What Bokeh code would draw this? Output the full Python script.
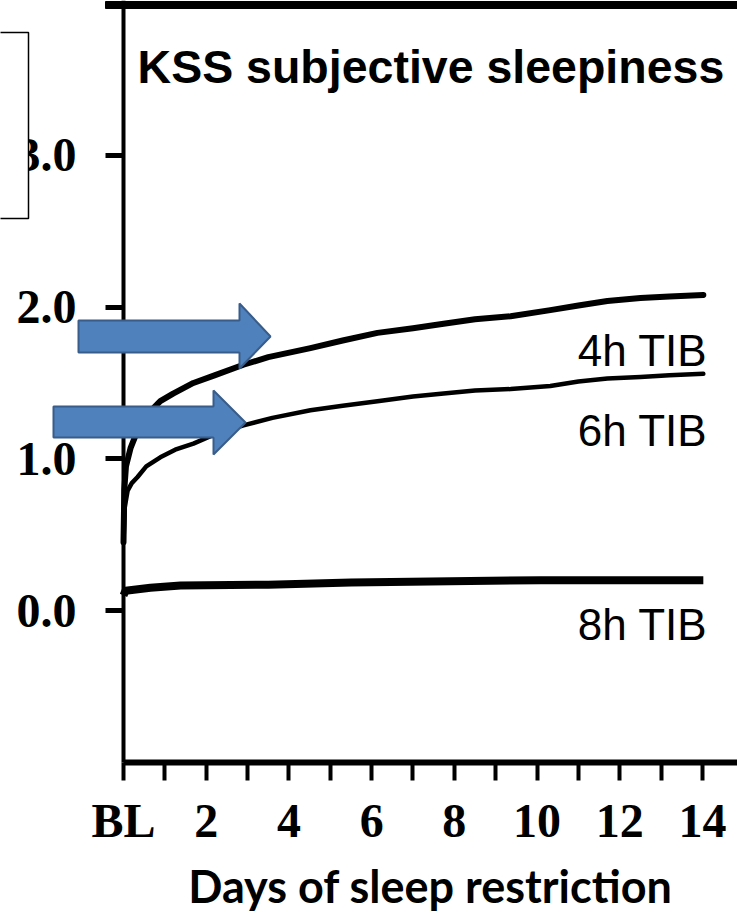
from bokeh.plotting import figure
from bokeh.models import Range1d, FixedTicker, Label, PolyAnnotation
from bokeh.core.properties import value
from bokeh.embed import file_html
from bokeh.resources import INLINE

# ---- data ----
days_4h = [0, 0.02, 0.06, 0.17, 0.3, 0.45, 0.6, 0.89, 1.2, 1.69, 2.2, 2.9, 3.5, 4.52, 5.3,
           6.14, 7.0, 7.74, 8.5, 9.36, 10.32, 11.0, 11.7, 12.5, 13.2, 14.02]
kss_4h = [0.45, 0.80, 0.95, 1.07, 1.16, 1.24, 1.30, 1.38, 1.43, 1.50, 1.55, 1.62, 1.67, 1.73, 1.78,
          1.83, 1.86, 1.89, 1.92, 1.94, 1.98, 2.01, 2.04, 2.06, 2.07, 2.08]

days_6h = [0, 0.03, 0.10, 0.2, 0.34, 0.55, 0.89, 1.25, 1.69, 2.2, 2.9, 3.6, 4.52, 5.3, 6.14,
           7.0, 7.74, 8.5, 9.36, 10.32, 11.0, 11.7, 12.5, 13.2, 14.02]
kss_6h = [0.45, 0.68, 0.79, 0.84, 0.88, 0.95, 1.01, 1.06, 1.10, 1.16, 1.22, 1.27, 1.32, 1.35, 1.38,
          1.41, 1.43, 1.45, 1.46, 1.48, 1.51, 1.53, 1.54, 1.55, 1.56]

days_8h = [0, 0.05, 0.65, 1.38, 3.5, 5.5, 10.08, 14.02]
kss_8h = [0.10, 0.13, 0.15, 0.165, 0.17, 0.185, 0.20, 0.20]

series_names = ["4h TIB", "6h TIB", "8h TIB"]
series_label_y = [1.714, 1.187, -0.092]
series_label_x = 14.12

x_ticks = list(range(15))
x_tick_labels = {0: "BL", 2: "2", 4: "4", 6: "6", 8: "8", 10: "10", 12: "12", 14: "14"}
y_ticks = [0, 1, 2, 3]
y_tick_labels = ["0.0", "1.0", "2.0", "3.0"]

title_text = "KSS subjective sleepiness"
x_title = "Days of sleep restriction"

# call-out arrows (canvas pixels): body-left, body-top, body-bottom, head-base, head-top, head-bottom, tip-x, tip-y
arrows = [
    (78, 320, 352, 239, 303, 368, 270, 336),
    (53, 406, 437, 213, 390, 454, 245, 422),
]

# top rule and left framed box (canvas pixels): left, right, top, bottom
top_rule = (105, 737, 1, 8)
left_box = (-10, 28, 32, 218)

W, H = 737, 921
X0_PX, PX_PER_DAY = 123.0, 41.357
Y0_PX, PX_PER_UNIT = 610.0, 151.7
x_end = (W - X0_PX) / PX_PER_DAY
y_top = Y0_PX / PX_PER_UNIT

p = figure(width=W, height=H,
           x_range=Range1d(-X0_PX / PX_PER_DAY, x_end),
           y_range=Range1d((Y0_PX - H) / PX_PER_UNIT, y_top),
           output_backend="svg", toolbar_location=None,
           min_border_left=0, min_border_right=0, min_border_top=0, min_border_bottom=0)
p.outline_line_color = None
p.xgrid.grid_line_color = None
p.ygrid.grid_line_color = None
p.background_fill_color = "white"
p.border_fill_color = "white"

serif = "Liberation Serif"

xa = p.xaxis[0]
xa.fixed_location = -1.0
xa.bounds = (0, x_end + 0.1)
xa.ticker = FixedTicker(ticks=x_ticks)
xa.major_label_overrides = {t: x_tick_labels.get(t, "") for t in x_ticks}
xa.minor_tick_line_color = None
xa.axis_line_width = 6
xa.major_tick_line_width = 4
xa.major_tick_out = 18
xa.major_tick_in = 0
xa.major_label_standoff = 14
xa.major_label_text_font = serif
xa.major_label_text_font_style = "bold"
xa.major_label_text_font_size = "48px"
xa.major_label_text_color = "black"
xa.axis_label = x_title
xa.axis_label_text_font = "Lato"
xa.axis_label_text_font_style = "bold"
xa.axis_label_text_font_size = "45px"
xa.axis_label_text_color = "black"
xa.axis_label_standoff = 8

ya = p.yaxis[0]
ya.fixed_location = 0
ya.bounds = (-1.0, y_top + 0.1)
ya.ticker = FixedTicker(ticks=y_ticks)
ya.major_label_overrides = dict(zip(y_ticks, y_tick_labels))
ya.minor_tick_line_color = None
ya.axis_line_width = 4
ya.major_tick_line_width = 5
ya.major_tick_out = 18
ya.major_tick_in = 0
ya.major_label_standoff = 29
ya.major_label_text_font = serif
ya.major_label_text_font_style = "bold"
ya.major_label_text_font_size = "48px"
ya.major_label_text_color = "black"

# curves
p.line(days_4h, kss_4h, line_color="black", line_width=6, line_cap="round", line_join="round")
p.line(days_6h, kss_6h, line_color="black", line_width=4.5, line_cap="round", line_join="round")
p.line(days_8h, kss_8h, line_color="black", line_width=8, line_cap="butt", line_join="round")

p.text(x=[series_label_x] * 3, y=series_label_y, text=series_names,
       text_align="right", text_baseline="alphabetic",
       text_font=value("Liberation Sans"), text_font_size="44px", text_color="black")

p.add_layout(Label(x=0.34, y=3.58, text=title_text, text_font="Liberation Sans",
                   text_font_style="bold", text_font_size="46.5px", text_color="black",
                   text_baseline="alphabetic"))


def poly(l, r, t, b):
    return [l, r, r, l], [t, t, b, b]


# top rule (axis of the panel above, cut off)
xs, ys = poly(*top_rule)
p.add_layout(PolyAnnotation(xs=xs, ys=ys, xs_units="canvas", ys_units="canvas",
                            fill_color="black", fill_alpha=1, line_color="black",
                            line_alpha=1, line_width=1, level="overlay"))

# white framed box on the left
xs, ys = poly(*left_box)
p.add_layout(PolyAnnotation(xs=xs, ys=ys, xs_units="canvas", ys_units="canvas",
                            fill_color="white", fill_alpha=1, line_color="black",
                            line_alpha=1, line_width=1.5, level="overlay"))

for (bl, bt, bb, hb, ht, hbot, tx, ty) in arrows:
    xs = [bl, hb, hb, tx, hb, hb, bl]
    ys = [bt, bt, ht, ty, hbot, bb, bb]
    p.add_layout(PolyAnnotation(xs=xs, ys=ys, xs_units="canvas", ys_units="canvas",
                                fill_color="#4F81BD", fill_alpha=1,
                                line_color="#385D8A", line_alpha=1, line_width=2, level="overlay"))

open("out.html", "w").write(file_html(p, INLINE))
